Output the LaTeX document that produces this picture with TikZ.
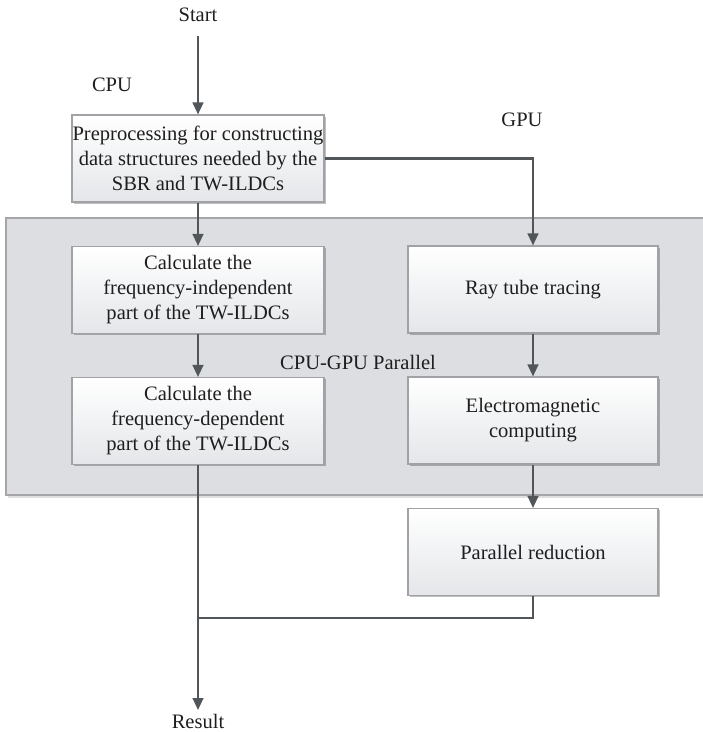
\documentclass[tikz,border=0pt]{standalone}
\usepackage{fontspec}
\setmainfont{Liberation Serif}
\usetikzlibrary{arrows.meta,shadows}
\definecolor{arr}{RGB}{80,86,90}
\definecolor{regfill}{RGB}{221,222,226}
\definecolor{regdraw}{RGB}{165,165,168}
\definecolor{boxdraw}{RGB}{160,162,165}
\definecolor{boxbot}{RGB}{228,230,233}
\definecolor{txt}{RGB}{30,30,30}
\tikzset{
  procbox/.style={draw=boxdraw, line width=0.8pt, top color=white, bottom color=boxbot,
    minimum width=189pt, minimum height=65.25pt, inner sep=0pt, align=center,
    text=txt, font=\fontsize{15.4pt}{18.75pt}\selectfont,
    drop shadow={shadow xshift=1.2pt, shadow yshift=-1.2pt, opacity=0.25, fill=black}},
  lbl/.style={inner sep=0pt, text=txt, font=\fontsize{15.4pt}{18.75pt}\selectfont},
  flow/.style={draw=arr, line width=1.6pt, -{Triangle[length=9pt,width=8pt]}},
  plainline/.style={draw=arr, line width=1.6pt}
}
\begin{document}
\begin{tikzpicture}[x=0.75pt,y=-0.75pt]
\useasboundingbox (0,0) rectangle (703,732);
% region
\fill[black,opacity=0.12] (8,220) rectangle (705,498);
\filldraw[fill=regfill, draw=regdraw, line width=0.8pt] (6,218) rectangle (704,495);
% labels
\node[lbl] (start) at (198,15) {Start};
\node[lbl] (cpu) at (112,85) {CPU};
\node[lbl] (gpu) at (522,120) {GPU};
\node[lbl] (par) at (358,362) {CPU-GPU Parallel};
\node[lbl] (result) at (198,721) {Result};
% boxes
\node[procbox] (pre) at (198,158.5) {Preprocessing for constructing\\data structures needed by the\\SBR and TW-ILDCs};
\node[procbox] (ind) at (198,290) {Calculate the\\frequency-independent\\part of the TW-ILDCs};
\node[procbox] (dep) at (198,421) {Calculate the\\frequency-dependent\\part of the TW-ILDCs};
\node[procbox, minimum width=187.5pt] (ray) at (533,289.5) {Ray tube tracing};
\node[procbox, minimum width=187.5pt] (em) at (533,420.5) {Electromagnetic\\computing};
\node[procbox, minimum width=187.5pt] (red) at (533,552) {Parallel reduction};
\coordinate (s0) at (198,36);
\coordinate (r0) at (198,710);
\coordinate (join) at (198,618);
% connectors
\draw[flow] (s0) -- (pre.north);
\draw[flow] (pre.south) -- (ind.north);
\draw[flow] (ind.south) -- (dep.north);
\draw[flow] (pre.east) -| (ray.north);
\draw[flow] (ray.south) -- (em.north);
\draw[flow] (em.south) -- (red.north);
\draw[plainline] (red.south) |- (join);
\draw[flow] (dep.south) -- (r0);
\end{tikzpicture}
\end{document}
